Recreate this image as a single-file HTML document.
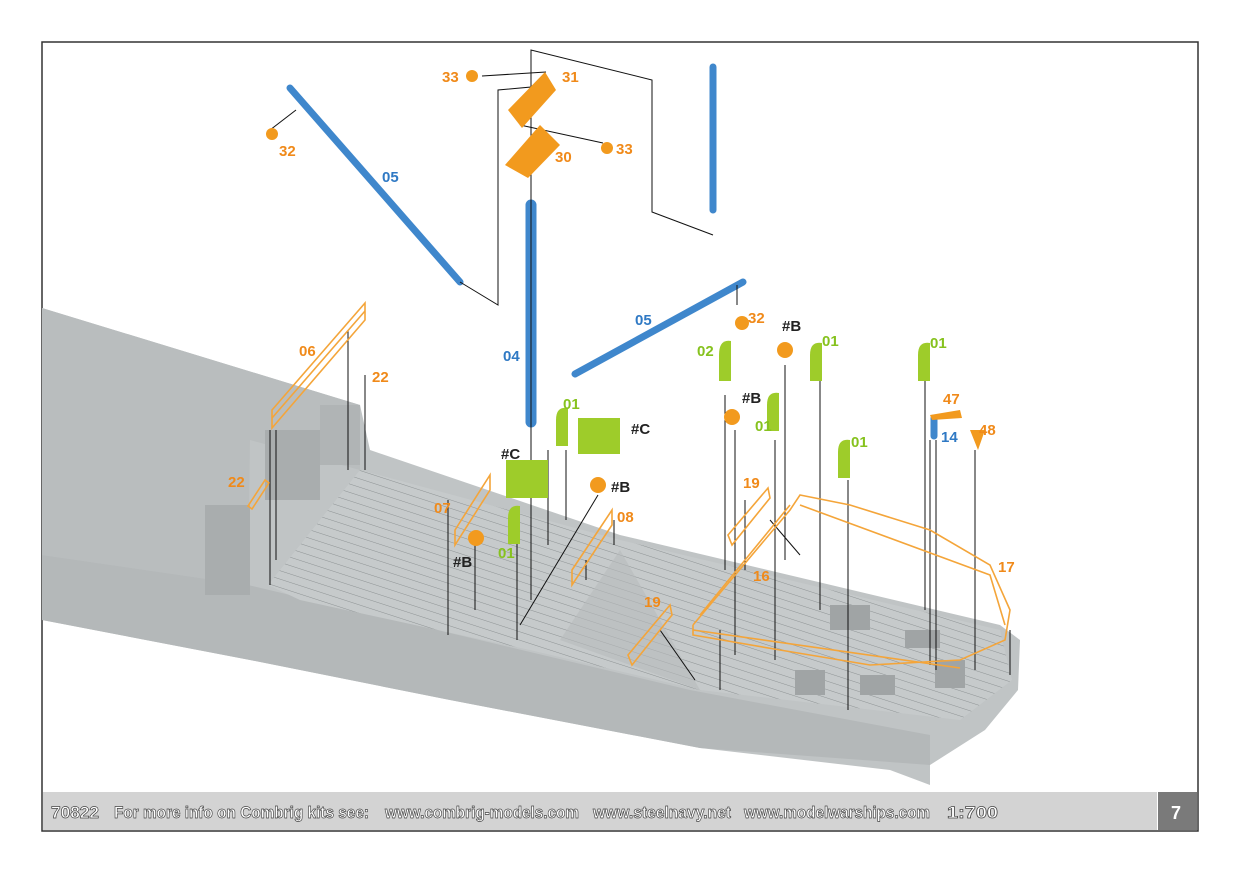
<!DOCTYPE html>
<html><head><meta charset="utf-8"><style>
html,body{margin:0;padding:0;background:#fff}
svg{display:block}
text{font-family:"Liberation Sans Narrow","Liberation Sans",sans-serif;font-weight:bold}
</style></head><body>
<svg width="1241" height="875" viewBox="0 0 1241 875" xmlns="http://www.w3.org/2000/svg">
<rect x="0" y="0" width="1241" height="875" fill="#fff"/>
<rect x="42" y="42" width="1156" height="789" fill="#fff" stroke="#333" stroke-width="1.5"/>
<defs>
<pattern id="pl" width="8" height="8" patternUnits="userSpaceOnUse" patternTransform="rotate(18)">
<rect width="8" height="8" fill="#c6cacb"/><line x1="0" y1="0" x2="8" y2="0" stroke="#8d9293" stroke-width="1"/>
</pattern>
</defs>
<path d="M42,308 L360,405 L370,450 L620,535 L1000,625 L1020,640 L1018,690 L985,730 L930,765 L930,785 L890,770 L700,748 L450,700 L250,660 L42,620 Z" fill="#c0c4c5"/>
<path d="M42,308 L360,405 L360,470 L250,440 L248,585 L42,555 Z" fill="#b9bdbe"/>
<path d="M42,555 L248,585 L690,690 L930,735 L930,765 L700,748 L450,700 L250,660 L42,620 Z" fill="#b4b8b9"/>
<path d="M268,585 L360,470 L620,540 L1000,630 L1012,680 L960,720 L700,690 L530,650 L300,600 Z" fill="url(#pl)"/>
<path d="M700,690 L620,550 L560,640 Z" fill="#b7bbbc" opacity="0.6"/>
<rect x="205" y="505" width="45" height="90" fill="#a9adae"/>
<rect x="265" y="430" width="55" height="70" fill="#a9adae"/>
<rect x="320" y="405" width="40" height="60" fill="#b0b4b5"/>
<g fill="#a0a4a5">
<rect x="830" y="605" width="40" height="25"/><rect x="905" y="630" width="35" height="18"/>
<rect x="860" y="675" width="35" height="20"/><rect x="795" y="670" width="30" height="25"/>
<rect x="935" y="660" width="30" height="28"/></g>
<g stroke="#3f87cc" stroke-width="7" stroke-linecap="round">
<line x1="290" y1="88" x2="460" y2="282"/>
<line x1="531" y1="205" x2="531" y2="422" stroke-width="11"/>
<line x1="713" y1="67" x2="713" y2="210"/>
<line x1="575" y1="374" x2="743" y2="282"/>
<line x1="934" y1="418" x2="934" y2="436"/>
</g>
<g stroke="#111" stroke-width="1" fill="none">
<polyline points="460,282 498,305 498,90 531,87 531,50 652,80 652,212 713,235"/>
<line x1="531" y1="95" x2="531" y2="600"/>
<line x1="546" y1="72" x2="482" y2="76"/>
<line x1="520" y1="125" x2="603" y2="143"/>
<line x1="270" y1="130" x2="296" y2="110"/>
<line x1="737" y1="305" x2="737" y2="285"/>
<line x1="270" y1="430" x2="270" y2="585"/><line x1="276" y1="430" x2="276" y2="560"/>
<line x1="348" y1="330" x2="348" y2="470"/><line x1="365" y1="375" x2="365" y2="470"/>
<line x1="448" y1="500" x2="448" y2="635"/><line x1="475" y1="545" x2="475" y2="610"/>
<line x1="517" y1="540" x2="517" y2="640"/><line x1="548" y1="450" x2="548" y2="545"/>
<line x1="566" y1="450" x2="566" y2="520"/><line x1="598" y1="495" x2="520" y2="625"/>
<line x1="586" y1="560" x2="586" y2="580"/><line x1="614" y1="520" x2="614" y2="545"/>
<line x1="725" y1="395" x2="725" y2="570"/><line x1="735" y1="430" x2="735" y2="655"/>
<line x1="745" y1="500" x2="745" y2="570"/><line x1="775" y1="440" x2="775" y2="660"/>
<line x1="785" y1="365" x2="785" y2="560"/><line x1="820" y1="380" x2="820" y2="610"/>
<line x1="848" y1="480" x2="848" y2="710"/><line x1="925" y1="380" x2="925" y2="610"/>
<line x1="930" y1="440" x2="930" y2="665"/><line x1="936" y1="440" x2="936" y2="670"/>
<line x1="975" y1="450" x2="975" y2="670"/><line x1="1010" y1="630" x2="1010" y2="675"/>
<line x1="720" y1="630" x2="720" y2="690"/><line x1="660" y1="630" x2="695" y2="680"/>
<line x1="770" y1="520" x2="800" y2="555"/>
</g>
<g stroke="#f4a53a" stroke-width="1.6" fill="none">
<polygon points="272,410 365,303 365,320 272,428"/>
<line x1="272" y1="418" x2="365" y2="311"/>
<polyline points="693,625 790,510 800,495 850,505 930,530 990,565 1010,610 1005,640 960,660 870,665 780,650 693,635 693,625"/>
<polyline points="700,615 790,505"/><polyline points="800,505 990,575 1005,625"/>
<line x1="693" y1="630" x2="960" y2="668"/>
<polygon points="455,530 490,475 490,490 455,545"/>
<polygon points="572,570 612,510 612,525 572,585"/>
<polygon points="628,655 670,605 672,615 632,665"/>
<polygon points="728,535 768,488 770,498 732,545"/>
<polygon points="248,506 265,480 269,483 252,509"/>
</g>
<g fill="#f29a1e">
<polygon points="508,110 545,72 556,90 522,128"/>
<polygon points="505,165 540,125 560,145 528,178"/>
<circle cx="472" cy="76" r="6"/><circle cx="607" cy="148" r="6"/><circle cx="272" cy="134" r="6"/>
<circle cx="742" cy="323" r="7"/><circle cx="785" cy="350" r="8"/><circle cx="732" cy="417" r="8"/>
<circle cx="598" cy="485" r="8"/><circle cx="476" cy="538" r="8"/>
<polygon points="970,430 985,430 978,450"/>
<polygon points="930,415 960,410 962,418 932,420"/>
</g>
<g fill="#9ecc2a">
<path d="M719,355 q0,-16 12,-14 l0,40 h-12 z"/><path d="M810,355 q0,-14 12,-12 l0,38 h-12 z"/>
<path d="M918,355 q0,-14 12,-12 l0,38 h-12 z"/><path d="M767,405 q0,-14 12,-12 l0,38 h-12 z"/>
<path d="M838,452 q0,-14 12,-12 l0,38 h-12 z"/><path d="M556,420 q0,-14 12,-12 l0,38 h-12 z"/>
<path d="M508,518 q0,-14 12,-12 l0,38 h-12 z"/>
<rect x="506" y="460" width="42" height="38"/><rect x="578" y="418" width="42" height="36"/>
</g>
<g font-size="15">
<g fill="#f08a1a">
<text x="442" y="82">33</text><text x="562" y="82">31</text><text x="616" y="154">33</text>
<text x="555" y="162">30</text><text x="279" y="156">32</text><text x="748" y="323">32</text>
<text x="299" y="356">06</text><text x="372" y="382">22</text><text x="228" y="487">22</text>
<text x="434" y="513">07</text><text x="617" y="522">08</text><text x="743" y="488">19</text>
<text x="753" y="581">16</text><text x="644" y="607">19</text><text x="998" y="572">17</text>
<text x="943" y="404">47</text><text x="979" y="435">48</text>
</g>
<g fill="#2f79c4">
<text x="382" y="182">05</text><text x="635" y="325">05</text><text x="503" y="361">04</text>
<text x="941" y="442">14</text>
</g>
<g fill="#86c21e">
<text x="563" y="409">01</text><text x="498" y="558">01</text><text x="697" y="356">02</text>
<text x="822" y="346">01</text><text x="930" y="348">01</text><text x="755" y="431">01</text>
<text x="851" y="447">01</text>
</g>
<g fill="#222">
<text x="782" y="331">#B</text><text x="742" y="403">#B</text><text x="611" y="492">#B</text>
<text x="453" y="567">#B</text><text x="631" y="434">#C</text><text x="501" y="459">#C</text>
</g>
</g>
<rect x="43" y="792" width="1114" height="38" fill="#d3d3d3"/>
<rect x="1158" y="792" width="39" height="38" fill="#7a7a7a"/>
<g font-size="17" fill="#fff" stroke="#444" stroke-width="0.7" font-weight="normal">
<text x="51" y="818" textLength="48" lengthAdjust="spacingAndGlyphs">70822</text>
<text x="114" y="818" textLength="255" lengthAdjust="spacingAndGlyphs">For more info on Combrig kits see:</text>
<text x="385" y="818" textLength="194" lengthAdjust="spacingAndGlyphs">www.combrig-models.com</text>
<text x="593" y="818" textLength="138" lengthAdjust="spacingAndGlyphs">www.steelnavy.net</text>
<text x="744" y="818" textLength="186" lengthAdjust="spacingAndGlyphs">www.modelwarships.com</text>
<text x="947" y="818" textLength="51" lengthAdjust="spacingAndGlyphs">1:700</text>
</g>
<text x="1171" y="819" font-size="18" fill="#fff">7</text>
</svg>
</body></html>
